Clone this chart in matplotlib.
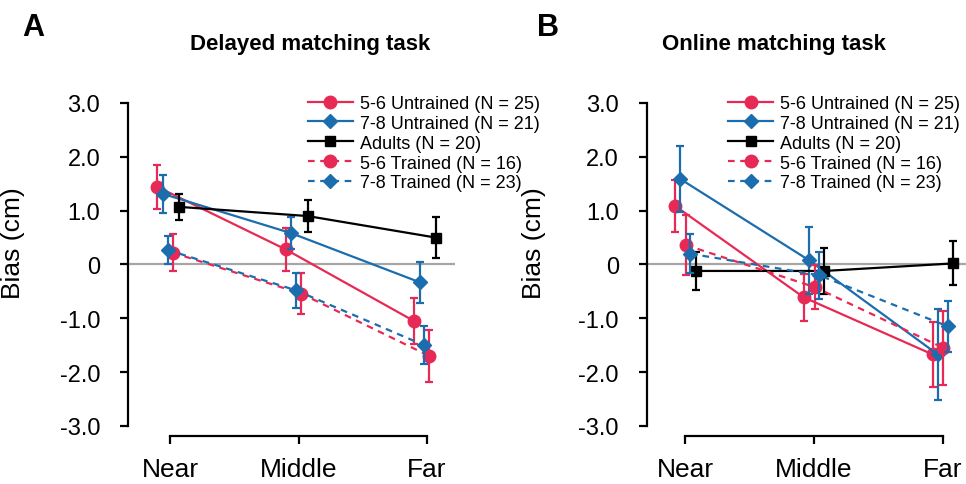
import matplotlib
matplotlib.use('Agg')
import matplotlib.pyplot as plt

plt.rcParams['font.family'] = ['Liberation Sans', 'DejaVu Sans']

# categorias e rotulos
categorias = ['Near', 'Middle', 'Far']
rotulos_y = ['-3.0', '-2.0', '-1.0', '0', '1.0', '2.0', '3.0']
valores_y = [-3, -2, -1, 0, 1, 2, 3]

grupos = ['5-6 Untrained (N = 25)', '7-8 Untrained (N = 21)', 'Adults (N = 20)',
          '5-6 Trained (N = 16)', '7-8 Trained (N = 23)']

# painel A - delayed matching task (media e erro)
delayed_56_untr = [1.44, 0.28, -1.05]
delayed_56_untr_err = [0.41, 0.40, 0.43]
delayed_78_untr = [1.31, 0.58, -0.33]
delayed_78_untr_err = [0.36, 0.30, 0.38]
delayed_adults = [1.07, 0.90, 0.50]
delayed_adults_err = [0.24, 0.30, 0.38]
delayed_56_tr = [0.22, -0.54, -1.70]
delayed_56_tr_err = [0.34, 0.38, 0.49]
delayed_78_tr = [0.27, -0.48, -1.50]
delayed_78_tr_err = [0.26, 0.32, 0.35]

# painel B - online matching task
online_56_untr = [1.09, -0.61, -1.67]
online_56_untr_err = [0.48, 0.44, 0.60]
online_78_untr = [1.59, 0.08, -1.67]
online_78_untr_err = [0.61, 0.62, 0.85]
online_adults = [-0.12, -0.12, 0.02]
online_adults_err = [0.36, 0.42, 0.41]
online_56_tr = [0.36, -0.42, -1.55]
online_56_tr_err = [0.56, 0.41, 0.68]
online_78_tr = [0.20, -0.20, -1.15]
online_78_tr_err = [0.36, 0.44, 0.47]

VERMELHO = '#E62A55'
AZUL = '#1C6DAE'
PRETO = '#000000'
estilos = [
    dict(color=VERMELHO, marker='o', ms=9, ls='-'),
    dict(color=AZUL, marker='D', ms=7, ls='-'),
    dict(color=PRETO, marker='s', ms=7.5, ls='-'),
    dict(color=VERMELHO, marker='o', ms=9, ls=(0, (3, 2.5))),
    dict(color=AZUL, marker='D', ms=7, ls=(0, (3, 2.5))),
]


def desenhar_painel(ax, series, erros, deslocamentos, xlim, pos_legenda):
    ax.axhline(0, color='#A6A6A6', lw=1.6, zorder=1)
    for i, (vals, errs) in enumerate(zip(series, erros)):
        est = estilos[i]
        xs = [k + deslocamentos[i] for k in range(len(categorias))]
        ax.errorbar(xs, vals, yerr=errs, fmt='none', ecolor=est['color'],
                    elinewidth=1.6, capsize=3.2, capthick=1.6, zorder=2 + i)
        ax.plot(xs, vals, color=est['color'], marker=est['marker'], ms=est['ms'],
                ls=est['ls'], lw=1.6, label=grupos[i], zorder=3 + i)
    ax.set_xlim(*xlim)
    ax.set_ylim(-3, 3)
    ax.set_yticks(valores_y)
    ax.set_yticklabels(rotulos_y)
    ax.set_xticks(range(len(categorias)))
    ax.set_xticklabels(categorias)
    for lado in ['top', 'right']:
        ax.spines[lado].set_visible(False)
    ax.spines['bottom'].set_position(('outward', 7.2))
    ax.spines['bottom'].set_bounds(0, 2)
    ax.spines['left'].set_bounds(-3, 3)
    for lado in ['left', 'bottom']:
        ax.spines[lado].set_linewidth(1.6)
    ax.tick_params(axis='y', direction='out', length=6, width=1.6, pad=14,
                   labelsize=17)
    ax.tick_params(axis='x', direction='out', length=6, width=1.6, pad=9,
                   labelsize=19)
    ax.set_ylabel('Bias (cm)', fontsize=19)
    ax.yaxis.set_label_coords(-0.315, 0.57)
    ax.legend(loc='upper left', frameon=False, fontsize=13, handlelength=2.5,
              handletextpad=0.4, labelspacing=0.16, borderpad=0, borderaxespad=0,
              bbox_to_anchor=pos_legenda)


fig = plt.figure(figsize=(9.66, 4.85), dpi=100)
ax_a = fig.add_axes([0.1325, 0.1196, 0.3385, 0.666])
ax_b = fig.add_axes([0.6694, 0.1196, 0.3306, 0.666])

desenhar_painel(ax_a,
                [delayed_56_untr, delayed_78_untr, delayed_adults, delayed_56_tr, delayed_78_tr],
                [delayed_56_untr_err, delayed_78_untr_err, delayed_adults_err,
                 delayed_56_tr_err, delayed_78_tr_err],
                [-0.1, -0.055, 0.07, 0.02, -0.02], (-0.33, 2.22), (0.55, 1.025))
desenhar_painel(ax_b,
                [online_56_untr, online_78_untr, online_adults, online_56_tr, online_78_tr],
                [online_56_untr_err, online_78_untr_err, online_adults_err,
                 online_56_tr_err, online_78_tr_err],
                [-0.08, -0.04, 0.08, 0.005, 0.04], (-0.30, 2.18), (0.255, 1.025))

fig.text(0.321, 0.897, 'Delayed matching task', ha='center', va='baseline',
         fontsize=16, fontweight='bold')
fig.text(0.801, 0.897, 'Online matching task', ha='center', va='baseline',
         fontsize=16, fontweight='bold')
fig.text(0.0228, 0.926, 'A', ha='left', va='baseline', fontsize=22, fontweight='bold')
fig.text(0.556, 0.926, 'B', ha='left', va='baseline', fontsize=22, fontweight='bold')

fig.savefig('out.png', dpi=100)
